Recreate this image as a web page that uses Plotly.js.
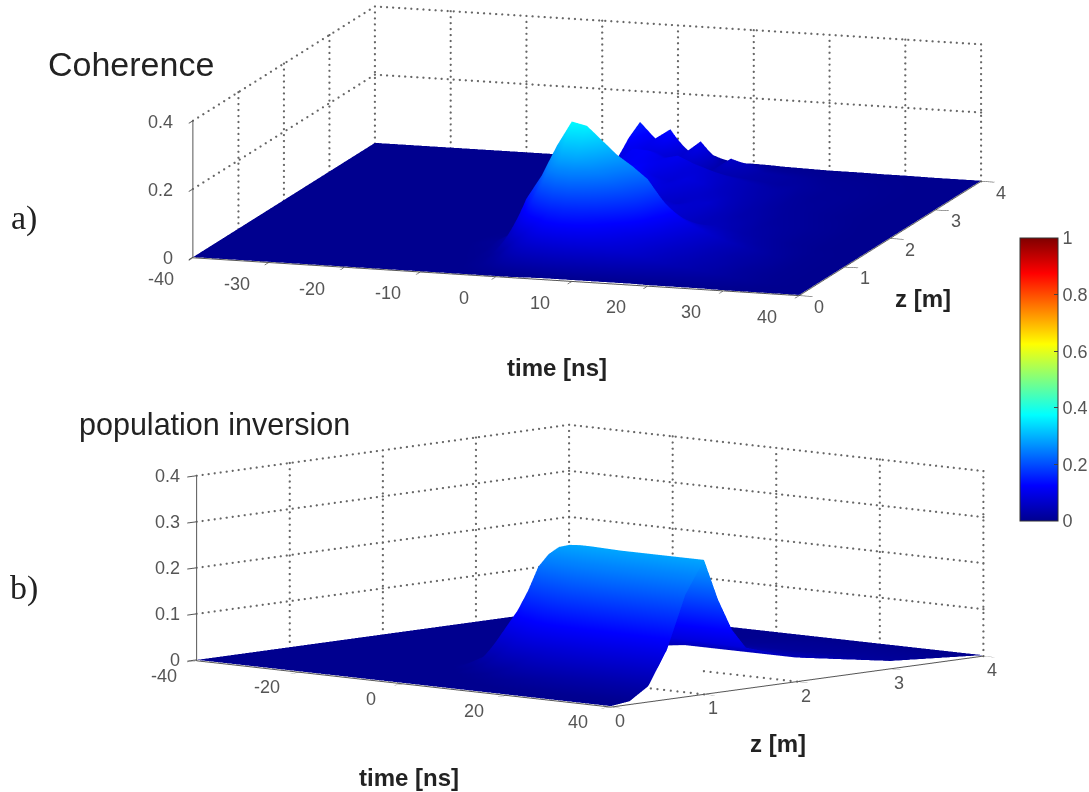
<!DOCTYPE html>
<html><head><meta charset="utf-8">
<script src="https://cdn.plot.ly/plotly-3.0.1.min.js"></script>
<style>html,body{margin:0;padding:0;background:#fff}#c{width:1089px;height:792px}</style></head>
<body><div id="c"></div>
<script>
const timeA=[-40,-10,-6,-4,-2,0,2,4,6,8,10,12,14,16,18,20,22,24,27,30,34,40];
const zA=[0,.25,.5,.75,1,1.25,1.5,2,2.5,3,3.25,3.5,3.75,4];
const coherence=[
[0,0,0,0,0,0,0,.001,.002,.002,.002,.002,.002,.002,.002,.001,.001,.001,.001,0,0,0],
[0,0,.002,.006,.015,.035,.055,.07,.08,.085,.085,.08,.075,.07,.06,.05,.04,.035,.025,.015,.005,0],
[0,0,.003,.01,.03,.07,.11,.15,.165,.16,.145,.125,.105,.09,.075,.06,.05,.04,.03,.015,.005,0],
[0,0,.005,.02,.08,.15,.23,.285,.295,.27,.24,.205,.17,.125,.095,.075,.06,.045,.03,.02,.005,0],
[0,0,.01,.035,.14,.21,.30,.375,.365,.325,.285,.255,.22,.16,.115,.09,.07,.055,.035,.02,.005,0],
[0,0,.005,.02,.1,.19,.26,.31,.3,.26,.22,.175,.135,.1,.08,.065,.055,.04,.025,.015,.005,0],
[0,0,.003,.015,.08,.16,.21,.24,.23,.19,.14,.1,.075,.06,.05,.05,.04,.03,.02,.01,.003,0],
[0,0,.002,.01,.06,.12,.16,.16,.14,.1,.07,.06,.07,.07,.05,.035,.03,.02,.015,.01,.003,0],
[0,0,.002,.01,.05,.1,.12,.12,.09,.08,.09,.08,.06,.05,.04,.03,.02,.015,.01,.005,.002,0],
[0,0,.005,.02,.09,.12,.12,.1,.11,.09,.075,.06,.05,.04,.03,.025,.015,.01,.01,.005,.002,0],
[0,.002,.01,.04,.13,.1,.09,.07,.07,.04,.04,.035,.03,.025,.02,.02,.015,.01,.008,.005,.002,0],
[0,.002,.015,.06,.156,.11,.14,.075,.11,.035,.065,.05,.03,.025,.02,.015,.01,.008,.006,.004,.002,0],
[0,.001,.01,.03,.08,.06,.07,.04,.05,.02,.03,.025,.015,.012,.01,.008,.006,.005,.004,.003,.001,0],
[0,0,.003,.01,.02,.015,.02,.012,.015,.008,.008,.007,.005,.004,.003,.002,.002,.002,.001,.001,0,0]
];
const timeB=[-40,-20,-10,-6,-2,2,4,6,8,10,12,14,16,18,24,30,40];
const zB=[0,.2,.4,.6,.8,1,1.15,1.3,1.45,2,3,4];
const inversion=[
[0,0,0,0,0,0,0,0,0,0,0,0,0,0,0,0,0],
[0,0,0,0,0,0,0,0,0,0,.001,.002,.003,.004,.005,.005,.005],
[0,0,0,0,0,0,.001,.002,.004,.006,.009,.012,.016,.02,.028,.03,.032],
[0,0,0,0,0,.004,.007,.012,.02,.03,.045,.06,.07,.08,.095,.1,.105],
[0,0,0,0,.005,.025,.045,.07,.1,.13,.158,.18,.197,.21,.22,.22,.22],
[0,0,0,.005,.03,.10,.135,.18,.235,.265,.283,.29,.292,.292,.29,.29,.29],
[0,0,0,.005,.025,.08,.11,.14,.17,.19,.203,.21,.21,.21,.21,.205,.2],
[0,0,0,.003,.02,.055,.072,.09,.107,.12,.13,.135,.135,.135,.135,.13,.13],
[0,0,0,.002,.012,.035,.045,.055,.066,.075,.081,.085,.088,.09,.09,.09,.087],
[0,0,0,.001,.006,.02,.025,.03,.035,.04,.043,.045,.048,.05,.05,.05,.05],
[0,0,0,0,.002,.006,.008,.01,.011,.012,.014,.015,.015,.015,.015,.015,.015],
[0,0,0,0,0,0,0,0,0,0,0,0,0,0,0,0,0]
];
const tTicksA=[-40,-30,-20,-10,0,10,20,30,40];
const zTicks=[0,1,2,3,4];
const hTicksA=[0,.2,.4];
const tTicksB=[-40,-20,0,20,40];
const hTicksB=[0,.1,.2,.3,.4];
const floorH=-.002;
const jet=[[0,'#00008f'],[.125,'#0000ff'],[.375,'#00ffff'],[.625,'#ffff00'],[.875,'#ff0000'],[1,'#800000']];
const cbTicks=[0,.2,.4,.6,.8,1];

function grid(tt,zz,hh,scene,nT,nZ,nH,floorLines){
  const tMin=tt[0],tMax=tt[tt.length-1],zMin=zz[0],zMax=zz[zz.length-1],hMin=floorH,hMax=hh[hh.length-1];
  const x=[],y=[],w=[];
  const seg=(a,b,n)=>{for(let i=0;i<=n;i++){const f=i/n;x.push(a[0]+(b[0]-a[0])*f);y.push(a[1]+(b[1]-a[1])*f);w.push(a[2]+(b[2]-a[2])*f);}};
  tt.forEach(t=>seg([t,zMax,hMin],[t,zMax,hMax],nH));
  zz.forEach(v=>{if(v!==zMin)seg([tMin,v,hMin],[tMin,v,hMax],nH);});
  hh.forEach(h=>{if(h!==0){seg([tMin,zMin,h],[tMin,zMax,h],nZ);seg([tMin,zMax,h],[tMax,zMax,h],nT);}});
  seg([tMax,zMax,hMin],[tMax,zMax,hMax],nH);
  floorLines.forEach(l=>seg([l[0],l[1],hMin],[l[2],l[3],hMin],l[4]));
  return {type:'scatter3d',mode:'markers',x,y,z:w,scene,hoverinfo:'skip',showlegend:false,
    marker:{color:'#666',size:1.3,line:{width:0}}};
}
function surf(x,y,z,scene,scale){
  return {type:'surface',x,y,z,scene,cmin:0,cmax:1,colorscale:jet,showscale:scale,hoverinfo:'skip',
   lighting:{ambient:1,diffuse:0,specular:0,roughness:1,fresnel:0},
   contours:{x:{highlight:false},y:{highlight:false},z:{highlight:false}},
   colorbar:{x:1020/1089,xanchor:'left',thickness:38,thicknessmode:'pixels',len:283/792,lenmode:'fraction',y:1-379.5/792,yanchor:'middle',
     tickmode:'array',tickvals:cbTicks,ticktext:cbTicks.map(String),ticks:'inside',ticklen:4,outlinecolor:'#333',outlinewidth:1,
     tickfont:{family:'Liberation Sans',size:18,color:'#555'},xpad:0,ypad:0}};
}
function ax(range,ticks){
  return {range,tickmode:'array',tickvals:ticks,showticklabels:false,showgrid:false,zeroline:false,showbackground:false,
    showline:true,linecolor:'#555',linewidth:2,ticks:'outside',ticklen:14,tickwidth:2,tickcolor:'#555',showspikes:false,title:{text:''}};
}
const tickFont={family:'Liberation Sans',size:18,color:'#555'};
function labels(tt,zz,hh,ts,zs,hs){
  const tMax=tt[tt.length-1],tMin=tt[0];
  const a=[];
  tt.forEach(t=>a.push({x:t,y:0,z:0,text:String(t),showarrow:false,xshift:ts[0],yshift:-ts[1],font:tickFont}));
  zz.forEach(v=>a.push({x:tMax,y:v,z:0,text:String(v),showarrow:false,xshift:zs[0],yshift:-zs[1],font:tickFont}));
  hh.forEach(h=>a.push({x:tMin,y:0,z:h,text:String(h),showarrow:false,xanchor:'right',xshift:hs[0],yshift:-hs[1],font:tickFont}));
  return a;
}
const note=(x,y,text,size,family)=>({xref:'paper',yref:'paper',x:x/1089,y:1-y/792,text,showarrow:false,xanchor:'center',yanchor:'middle',
  font:{family:family||'Liberation Sans',size,color:'#222'}});
const E=4,SA=3.21,SB=2.82,CA=-.242,CB=-.143;
const dirA=[.2947,-.9346,.198],dirB=[.6652,-.7363,.1237];
const layout={width:1089,height:792,margin:{l:0,r:0,t:0,b:0,autoexpand:false},paper_bgcolor:'#fff',showlegend:false,
 scene:{domain:{x:[85/1089,1],y:[.5,1]},aspectmode:'manual',aspectratio:{x:SA,y:.952*SA,z:.22*SA},
  camera:{projection:{type:'orthographic'},up:{x:0,y:0,z:1},center:{x:0,y:0,z:CA},eye:{x:dirA[0]*E,y:dirA[1]*E,z:dirA[2]*E+CA}},
  xaxis:ax([-40,40],tTicksA),yaxis:ax([0,4],zTicks),zaxis:ax([floorH,.4],hTicksA),
  annotations:labels(tTicksA,zTicks,hTicksA,[-32,22],[20,12],[-18,1])},
 scene2:{domain:{x:[91/1089,1],y:[0,.5]},aspectmode:'manual',aspectratio:{x:SB,y:.995*SB,z:.334*SB},
  camera:{projection:{type:'orthographic'},up:{x:0,y:0,z:1},center:{x:0,y:0,z:CB},eye:{x:dirB[0]*E,y:dirB[1]*E,z:dirB[2]*E+CB}},
  xaxis:ax([-40,40],tTicksB),yaxis:ax([0,4],zTicks),zaxis:ax([floorH,.4],hTicksB),
  annotations:labels(tTicksB,zTicks,hTicksB,[-33,16],[9,15],[-15,0])},
 annotations:[
  note(131,64,'Coherence',34),note(214,424,'population inversion',30.5),
  note(24,218,'a)',34,'Liberation Serif'),note(24,588,'b)',34,'Liberation Serif'),
  note(557,367,'<b>time [ns]</b>',24),note(923,298,'<b>z [m]</b>',24),
  note(409,777,'<b>time [ns]</b>',24),note(778,743,'<b>z [m]</b>',24)]
};
Plotly.newPlot('c',[
  surf(timeA,zA,coherence,'scene',true),grid(tTicksA,zTicks,hTicksA,'scene',100,35,23,[]),
  surf(timeB,zB,inversion,'scene2',false),grid(tTicksB,zTicks,hTicksB,'scene2',70,62,30,[[22,1,40,1,14],[22,2,40,2,14]])
],layout,{displayModeBar:false});
</script></body></html>
